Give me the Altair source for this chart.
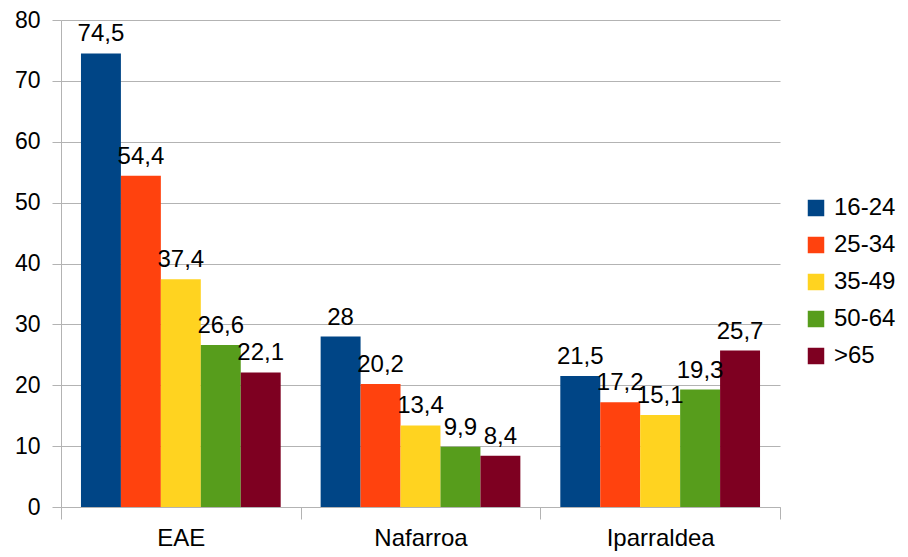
import altair as alt
import pandas as pd

regions = ["EAE", "Nafarroa", "Iparraldea"]
groups = ["16-24", "25-34", "35-49", "50-64", ">65"]
colors = ["#004586", "#ff420e", "#ffd320", "#579d1c", "#7e0021"]
eae = [74.5, 54.4, 37.4, 26.6, 22.1]
nafarroa = [28, 20.2, 13.4, 9.9, 8.4]
iparraldea = [21.5, 17.2, 15.1, 19.3, 25.7]

rows = []
for reg, vals in zip(regions, [eae, nafarroa, iparraldea]):
    for g, v in zip(groups, vals):
        rows.append({"region": reg, "group": g, "value": v,
                     "label": (("%g" % v).replace(".", ","))})
df = pd.DataFrame(rows)

FONT = "Liberation Sans"

x = alt.X("region:N", sort=regions, title=None,
          scale=alt.Scale(paddingInner=0, paddingOuter=0),
          axis=alt.Axis(labelAngle=0, labelFontSize=24, labelFont=FONT, labelColor="#000000",
                        labelPadding=7, tickBand="extent", tickSize=12, tickColor="#b3b3b3",
                        domainColor="#b3b3b3", grid=False))
xo = alt.XOffset("group:N", sort=groups,
                 scale=alt.Scale(paddingInner=0, paddingOuter=0.5))
y = alt.Y("value:Q", title=None,
          scale=alt.Scale(domain=[0, 80], nice=False),
          axis=alt.Axis(values=list(range(0, 81, 10)), labelFontSize=23, labelFont=FONT,
                        labelColor="#000000", labelPadding=12, tickSize=9, tickColor="#b3b3b3",
                        domainColor="#b3b3b3", gridColor="#b3b3b3", domain=True))

bars = alt.Chart(df).mark_bar().encode(
    x=x, xOffset=xo, y=y,
    color=alt.Color("group:N", sort=groups, title=None,
                    scale=alt.Scale(domain=groups, range=colors),
                    legend=alt.Legend(orient="none", legendX=743, legendY=176,
                                      symbolType="square", symbolSize=272,
                                      symbolStrokeWidth=0, labelFontSize=24,
                                      labelFont=FONT, labelColor="#000000",
                                      rowPadding=13, symbolOffset=0, labelOffset=6))
)

text = alt.Chart(df).mark_text(fontSize=24, font=FONT, baseline="alphabetic", dy=-12,
                               color="#000000").encode(
    x=alt.X("region:N", sort=regions), xOffset=alt.XOffset("group:N", sort=groups),
    y=alt.Y("value:Q"), text="label:N")

chart = alt.layer(bars, text).properties(
    width=719, height=487,
    autosize=alt.AutoSizeParams(type="none"),
    padding={"left": 53, "top": 12, "right": 120, "bottom": 49},
).configure_view(stroke=None).configure_axis(gridWidth=1)

chart.save("out.html", embed_options={"renderer": "svg", "actions": False})
